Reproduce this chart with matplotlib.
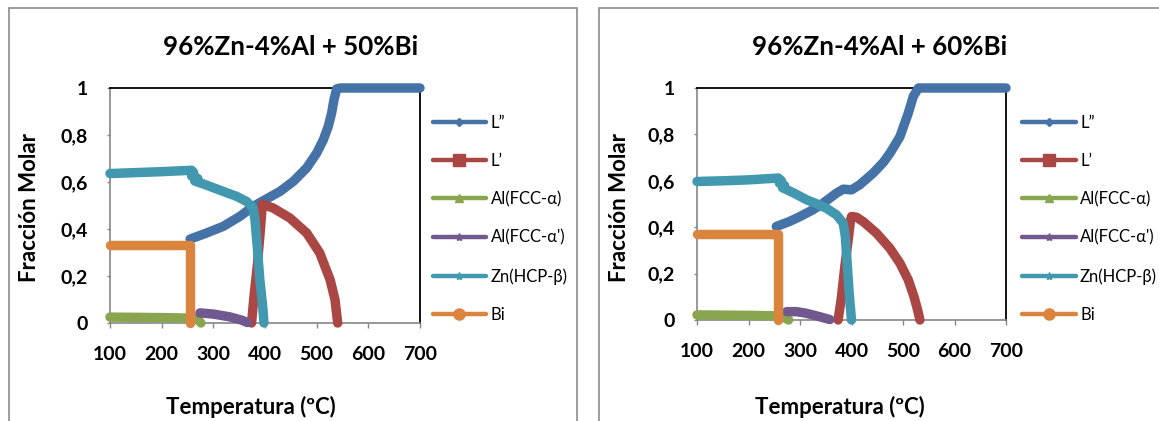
import matplotlib
matplotlib.use("Agg")
import matplotlib.pyplot as plt
from matplotlib.lines import Line2D
from matplotlib.patches import Rectangle

plt.rcParams['font.family'] = ['Lato', 'DejaVu Sans']

W, H = 1159, 421

# ---- series names and colours ----
series_names = ['L\u201d', 'L\u2019', 'Al(FCC-\u03b1)', "Al(FCC-\u03b1')", 'Zn(HCP-\u03b2)', 'Bi']
series_colors = ['#4572A7', '#AA4643', '#89A54E', '#71588F', '#4198AF', '#DB843D']
legend_markers = ['D', 's', '^', '*', '*', 'o']
legend_msize = [4, 8, 6, 6, 6, 8]

x_ticks = [100, 200, 300, 400, 500, 600, 700]
y_ticks = [0, 0.2, 0.4, 0.6, 0.8, 1.0]
y_tick_labels = ['0', '0,2', '0,4', '0,6', '0,8', '1']

# ---- 96%Zn-4%Al + 50%Bi ----
liq2_T_50 = [255, 287, 319, 351.6, 377, 403, 429, 455, 480.7, 500, 513, 522.5, 529, 533.5, 538.7, 545, 600, 650, 700]
liq2_f_50 = [0.357, 0.383, 0.411, 0.454, 0.496, 0.528, 0.56, 0.603, 0.66, 0.723, 0.78, 0.837, 0.894, 0.95, 0.996, 1.0, 1.0, 1.0, 1.0]

liq1_T_50 = [374, 378.7, 385, 390, 393.6, 395, 416, 448, 480.7, 506, 526, 535.5, 540.7]
liq1_f_50 = [0.0, 0.113, 0.241, 0.369, 0.468, 0.505, 0.489, 0.447, 0.383, 0.298, 0.184, 0.099, 0.0]

fcc_T_50 = [100, 150, 200, 250, 265, 272, 276]
fcc_f_50 = [0.025, 0.024, 0.023, 0.021, 0.020, 0.010, 0.0]

fcc2_T_50 = [274, 300, 332, 355, 366]
fcc2_f_50 = [0.043, 0.038, 0.026, 0.012, 0.002]

hcp_T_50 = [100, 150, 200, 258, 262, 258, 270, 264, 284, 319, 345, 364.5, 377, 380.6, 385, 390, 395.5, 398]
hcp_f_50 = [0.636, 0.640, 0.644, 0.650, 0.640, 0.625, 0.615, 0.604, 0.589, 0.56, 0.539, 0.517, 0.489, 0.44, 0.326, 0.184, 0.071, 0.0]

bi_T_50 = [100, 150, 200, 255, 255]
bi_f_50 = [0.333, 0.333, 0.333, 0.333, 0.0]

# ---- 96%Zn-4%Al + 60%Bi ----
liq2_T_60 = [254, 280, 300, 325, 345, 371, 384, 400, 416, 442, 462, 475, 494, 510, 520, 530, 600, 650, 700]
liq2_f_60 = [0.403, 0.425, 0.446, 0.475, 0.504, 0.547, 0.564, 0.561, 0.583, 0.633, 0.68, 0.72, 0.79, 0.89, 0.964, 1.0, 1.0, 1.0, 1.0]

liq1_T_60 = [374, 380.6, 387, 393.6, 398, 400, 409.8, 422.7, 448.7, 474.6, 494, 510.2, 521.3, 528.4, 532.9]
liq1_f_60 = [0.0, 0.10, 0.23, 0.345, 0.43, 0.446, 0.443, 0.424, 0.374, 0.309, 0.245, 0.173, 0.101, 0.043, 0.0]

fcc_T_60 = [100, 150, 200, 250, 262, 272, 278]
fcc_f_60 = [0.022, 0.021, 0.020, 0.018, 0.016, 0.008, 0.0]

fcc2_T_60 = [274, 293, 310, 325, 345, 358]
fcc2_f_60 = [0.036, 0.036, 0.030, 0.022, 0.010, 0.002]

hcp_T_60 = [100, 150, 200, 258, 264, 260, 270, 266, 276, 290, 313, 330, 351, 371, 384, 388, 391.6, 395.5, 400]
hcp_f_60 = [0.597, 0.600, 0.604, 0.612, 0.600, 0.590, 0.580, 0.570, 0.560, 0.545, 0.518, 0.503, 0.482, 0.453, 0.417, 0.36, 0.245, 0.115, 0.0]

bi_T_60 = [100, 150, 200, 257.5, 257.5]
bi_f_60 = [0.371, 0.371, 0.371, 0.371, 0.0]

panels = [
    dict(title='96%Zn-4%Al + 50%Bi',
         rect=[110 / W, (H - 323) / H, 310 / W, 235 / H],
         title_x=291, ylab_x=30, xlab_x=251, leg_x=432.5,
         data=[(liq2_T_50, liq2_f_50), (liq1_T_50, liq1_f_50), (fcc_T_50, fcc_f_50),
               (fcc2_T_50, fcc2_f_50), (hcp_T_50, hcp_f_50), (bi_T_50, bi_f_50)]),
    dict(title='96%Zn-4%Al + 60%Bi',
         rect=[697 / W, (H - 320) / H, 309 / W, 232 / H],
         title_x=880, ylab_x=620, xlab_x=840, leg_x=1022,
         data=[(liq2_T_60, liq2_f_60), (liq1_T_60, liq1_f_60), (fcc_T_60, fcc_f_60),
               (fcc2_T_60, fcc2_f_60), (hcp_T_60, hcp_f_60), (bi_T_60, bi_f_60)]),
]

fig = plt.figure(figsize=(W / 100, H / 100), dpi=100)

# chart-area frames
fig.add_artist(Rectangle((9 / W, -0.1), (577 - 9) / W, 1.1 - 8 / H,
                         transform=fig.transFigure, fill=False, ec='#8c8c8c', lw=1.2))
fig.add_artist(Rectangle((599 / W, -0.1), 0.5, 1.1 - 8 / H,
                         transform=fig.transFigure, fill=False, ec='#8c8c8c', lw=1.2))

grey = '#868686'
for p in panels:
    ax = fig.add_axes(p['rect'])
    order = [5, 2, 3, 1, 4, 0]
    for i in order:
        T, f = p['data'][i]
        ax.plot(T, f, color=series_colors[i], lw=6.8, solid_capstyle='round',
                solid_joinstyle='round', clip_on=False, zorder=3 + i * 0.1)
    ax.set_xlim(100, 700)
    ax.set_ylim(0, 1)
    ax.set_xticks(x_ticks)
    ax.set_xticklabels([str(v) for v in x_ticks])
    ax.set_yticks(y_ticks)
    ax.set_yticklabels(y_tick_labels)
    for s in ['left', 'bottom']:
        ax.spines[s].set_color(grey)
        ax.spines[s].set_linewidth(1.2)
    for s in ['top', 'right']:
        ax.spines[s].set_color('black')
        ax.spines[s].set_linewidth(1.3)
    ax.tick_params(axis='x', direction='out', length=3.6, width=1, color=grey,
                   pad=13, labelsize=14)
    ax.tick_params(axis='y', direction='out', length=2.5, width=1, color=grey,
                   pad=13.5, labelsize=14)
    for lab in ax.get_xticklabels() + ax.get_yticklabels():
        lab.set_fontweight('bold')

    fig.text(p['title_x'] / W, 1 - 47 / H, p['title'], ha='center', va='center',
             fontsize=18.6, fontweight='bold')
    fig.text(p['ylab_x'] / W, 1 - 207 / H, 'Fracción Molar', ha='center', va='center',
             rotation=90, fontsize=16, fontweight='bold')
    fig.text(p['xlab_x'] / W, 1 - 407 / H, 'Temperatura (ºC)', ha='center', va='center',
             fontsize=16, fontweight='bold')

    handles = [Line2D([0], [0], color=c, lw=3.2, marker=m, markersize=ms,
                      markerfacecolor=c, markeredgecolor=c, solid_capstyle='round')
               for c, m, ms in zip(series_colors, legend_markers, legend_msize)]
    fig.legend(handles, series_names, loc='upper left',
               bbox_to_anchor=(p['leg_x'] / W, 1 - 114.5 / H),
               frameon=False, fontsize=12, handlelength=3.23, handletextpad=0.25,
               labelspacing=1.34, borderpad=0, borderaxespad=0, numpoints=1)

fig.savefig('out.png', dpi=100)
